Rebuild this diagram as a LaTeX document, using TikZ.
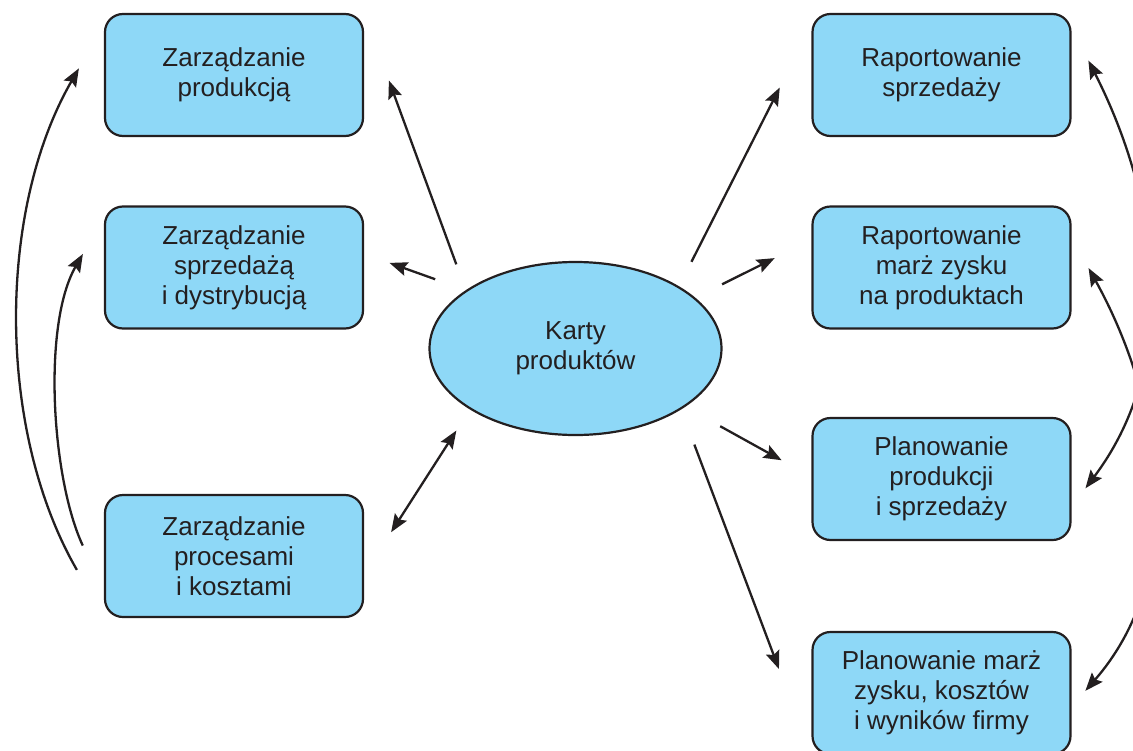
\documentclass[tikz,border=0pt]{standalone}
\usepackage{fontspec}
\setmainfont{Liberation Sans}
\usetikzlibrary{arrows.meta,shapes.geometric}
\definecolor{ink}{HTML}{231F20}
\definecolor{jasny}{HTML}{8ED8F7}
\begin{document}
\begin{tikzpicture}[x=1pt,y=-1pt,
  box/.style={draw=ink,line width=2.2pt,fill=jasny,rounded corners=18pt,minimum width=258pt,minimum height=122pt,align=center,text=ink,font=\fontsize{26}{30}\selectfont},
  owal/.style={ellipse,draw=ink,line width=2.2pt,fill=jasny,minimum width=292pt,minimum height=173pt,inner sep=0pt,align=center,text=ink,font=\fontsize{26}{30}\selectfont},
  strz/.style={draw=ink,line width=2.3pt},
  >={Stealth[length=18pt,width=14pt,inset=3pt]}]
\useasboundingbox (0,0) rectangle (1133,750);
\clip (0,0) rectangle (1133,750);
\node[owal] (karty) at (575.5,348.5) {Karty\\produktów};
\node[box] (zp) at (234,75) {Zarządzanie\\produkcją};
\node[box] (zsd) at (234,267.5) {Zarządzanie\\sprzedażą\\i dystrybucją};
\node[box] (zpk) at (234,556) {Zarządzanie\\procesami\\i kosztami};
\node[box] (rs) at (941.5,75) {Raportowanie\\sprzedaży};
\node[box] (rmz) at (941.5,267.5) {Raportowanie\\marż zysku\\na produktach};
\node[box] (pps) at (941.5,479) {Planowanie\\produkcji\\i sprzedaży};
\node[box] (pmz) at (941.5,693) {Planowanie marż\\zysku, kosztów\\i wyników firmy};
\draw[strz,->,shorten <=27.5pt,shorten >=72pt] (karty.152) -- (zp.north east);
\draw[strz,->,shorten <=32.5pt,shorten >=27pt] (karty.152.7) -- (zsd.6.7);
\draw[strz,<->,shorten <=25pt,shorten >=50pt] (karty.210) -- (zpk.352);
\draw[strz,->,shorten <=27.5pt,shorten >=70pt] (karty.31.4) -- (rs.159);
\draw[strz,->,shorten <=30pt,shorten >=41pt] (karty.23.8) -- (rmz.168);
\draw[strz,->,shorten <=40pt,shorten >=34pt] (karty.332.6) -- (pps.179);
\draw[strz,->,shorten <=37.5pt,shorten >=92pt] (karty.330.8) -- (pmz.south west);
\draw[strz,->,shorten <=54pt,shorten >=50pt] (zpk.205) to[out=120,in=240,looseness=0.93] (zp.159);
\draw[strz,->,shorten <=50pt,shorten >=42pt] (zpk.195) to[out=115,in=240,looseness=0.85] (zsd.159);
\draw[strz,<->,shorten <=37pt,shorten >=23pt] (rs.20) to[out=297,in=53] (pps.348);
\draw[strz,<->,shorten <=35pt,shorten >=21pt] (rmz.13) to[out=299,in=49] (pmz.354);
\end{tikzpicture}
\end{document}
